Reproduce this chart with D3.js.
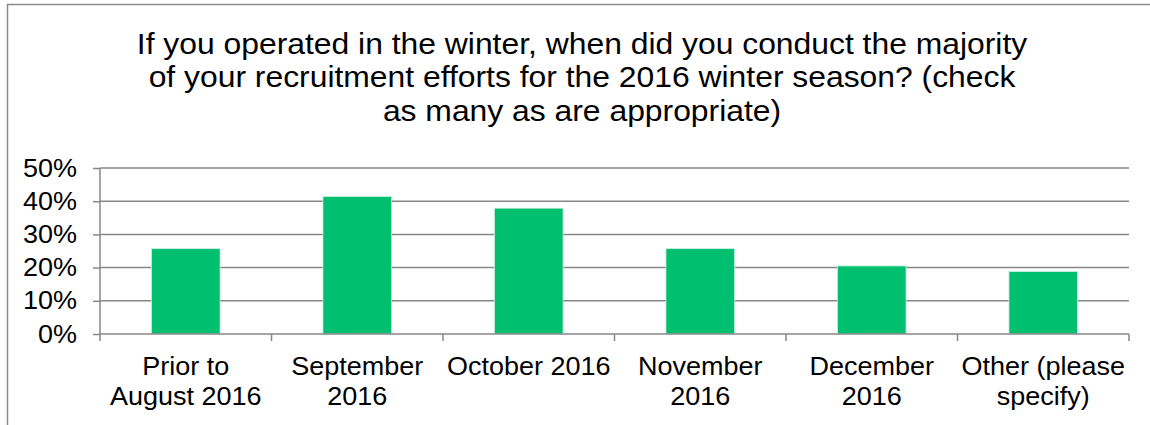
<!DOCTYPE html>
<html lang="en">

<head>
  <meta charset="utf-8">
  <title>Recruitment timing</title>
  <style>
    body {
      margin: 0;
      background: #fff;
      font-family: "Liberation Sans", Arial, sans-serif;
    }
  </style>
</head>

<body>
  <div id="chart"></div>

  <script src="https://d3js.org/d3.v7.min.js"></script>
  <script>
    // Data
    var categories = ["Prior to August 2016", "September 2016", "October 2016", "November 2016", "December 2016", "Other (please specify)"];
    var labelLines = [["Prior to", "August 2016"], ["September", "2016"], ["October 2016"], ["November", "2016"], ["December", "2016"], ["Other (please", "specify)"]];
    var values = [0.257, 0.414, 0.379, 0.257, 0.205, 0.188];
    var yTicks = [0, 0.1, 0.2, 0.3, 0.4, 0.5];
    var titleLines = [
      "If you operated in the winter, when did you conduct the majority",
      "of your recruitment efforts for the 2016 winter season? (check",
      "as many as are appropriate)"
    ];

    var W = 1150, H = 425;
    var margin = { top: 168, right: 21, bottom: 91, left: 100 };
    var width = W - margin.left - margin.right;
    var height = H - margin.top - margin.bottom;
    // the source text is slightly wider than Arial metrics
    var stretch = 1.08;

    var svg = d3.select("#chart").append("svg")
      .attr("width", W)
      .attr("height", H);

    // outer frame
    svg.append("path")
      .attr("d", "M7.5," + H + "V4.5H" + W)
      .attr("fill", "none")
      .attr("stroke", "#8c8c8c")
      .attr("stroke-width", 1.5);

    // title
    svg.append("text")
      .attr("transform", "translate(582,54) scale(" + stretch + ",1)")
      .attr("text-anchor", "middle")
      .style("font-size", "29.5px")
      .attr("fill", "#000")
      .selectAll("tspan")
      .data(titleLines)
      .join("tspan")
      .attr("x", 0)
      .attr("dy", function (d, i) { return i === 0 ? 0 : 33.5; })
      .text(function (d) { return d; });

    var g = svg.append("g")
      .attr("transform", "translate(" + margin.left + "," + margin.top + ")");

    var x = d3.scaleBand()
      .domain(categories)
      .range([0, width])
      .paddingInner(0.6)
      .paddingOuter(0.3);

    var y = d3.scaleLinear()
      .domain([0, 0.5])
      .range([height, 0]);

    // gridlines
    g.append("g")
      .selectAll("line")
      .data(yTicks.slice(1))
      .join("line")
      .attr("x1", 0)
      .attr("x2", width)
      .attr("y1", function (d) { return y(d); })
      .attr("y2", function (d) { return y(d); })
      .attr("stroke", "#878787")
      .attr("stroke-width", 1.5);

    // y axis
    var yAxis = d3.axisLeft(y)
      .tickValues(yTicks)
      .tickFormat(d3.format(".0%"))
      .tickSize(7)
      .tickPadding(15);
    var ya = g.append("g").call(yAxis);
    ya.select(".domain").attr("stroke", "#878787").attr("stroke-width", 1.5).attr("d", "M0," + height + "V0");
    ya.selectAll(".tick line").attr("stroke", "#878787").attr("stroke-width", 1.5);
    ya.selectAll(".tick text")
      .attr("x", 0)
      .attr("transform", "translate(-23,0) scale(" + stretch + ",1)")
      .style("font-size", "25px")
      .style("font-family", "'Liberation Sans', Arial, sans-serif")
      .attr("fill", "#000");

    // bars
    g.selectAll(".bar")
      .data(values)
      .join("rect")
      .attr("class", "bar")
      .attr("x", function (d, i) { return x(categories[i]); })
      .attr("y", function (d) { return y(d); })
      .attr("width", x.bandwidth())
      .attr("height", function (d) { return height - y(d); })
      .attr("fill", "#00bf6f")
      .attr("stroke", "#c8f0dd")
      .attr("stroke-width", 0.8);

    // x axis: tick marks on band edges
    var step = x.step();
    var edges = d3.range(categories.length + 1).map(function (i) { return i * step; });
    g.append("line")
      .attr("x1", 0).attr("x2", width)
      .attr("y1", height).attr("y2", height)
      .attr("stroke", "#878787").attr("stroke-width", 1.5);
    g.append("g")
      .selectAll("line")
      .data(edges)
      .join("line")
      .attr("x1", function (d) { return d; })
      .attr("x2", function (d) { return d; })
      .attr("y1", height)
      .attr("y2", height + 7)
      .attr("stroke", "#878787")
      .attr("stroke-width", 1.5);

    // x labels
    g.append("g")
      .selectAll("text")
      .data(categories)
      .join("text")
      .attr("text-anchor", "middle")
      .attr("transform", function (d) {
        return "translate(" + (x(d) + x.bandwidth() / 2) + "," + (height + 41) + ") scale(" + stretch + ",1)";
      })
      .style("font-size", "25px")
      .attr("fill", "#000")
      .each(function (d, i) {
        d3.select(this).selectAll("tspan")
          .data(labelLines[i])
          .join("tspan")
          .attr("x", 0)
          .attr("dy", function (t, j) { return j === 0 ? 0 : 30; })
          .text(function (t) { return t; });
      });
  </script>
</body>

</html>
